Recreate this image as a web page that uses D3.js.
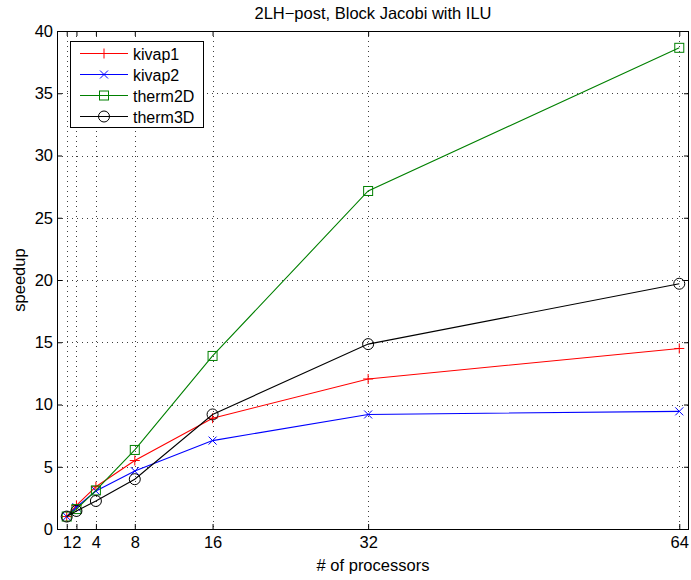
<!DOCTYPE html>
<html>
<head>
<meta charset="utf-8">
<script src="https://cdn.jsdelivr.net/npm/d3@7"></script>
<style>
  body { margin: 0; background: #fff; }
  text { font-family: "Liberation Sans", Arial, Helvetica, sans-serif; fill: #000; }
</style>
</head>
<body>
<div id="chart"></div>
<script>
// processors on x, speedup on y
const procs = [1, 2, 4, 8, 16, 32, 64];
const kivap1 = [1, 1.9, 3.4, 5.5, 8.9, 12.05, 14.5];
const kivap2 = [1, 1.75, 3.05, 4.65, 7.1, 9.2, 9.45];
const therm2D = [1, 1.6, 3.1, 6.35, 13.9, 27.15, 38.65];
const therm3D = [1, 1.45, 2.25, 4.0, 9.2, 14.85, 19.7];
const xTicks = [1, 2, 4, 8, 16, 32, 64];
const yTicks = [0, 5, 10, 15, 20, 25, 30, 35, 40];

const series = [
  { name: "kivap1", values: kivap1, color: "#ff0000", marker: "plus" },
  { name: "kivap2", values: kivap2, color: "#0000ff", marker: "x" },
  { name: "therm2D", values: therm2D, color: "#008000", marker: "square" },
  { name: "therm3D", values: therm3D, color: "#000000", marker: "circle" }
];

const W = 691, H = 580;
const m = { left: 57, right: 2, top: 31, bottom: 51 };
const iw = W - m.left - m.right, ih = H - m.top - m.bottom;
const fs = 16.5;

const svg = d3.select("#chart").append("svg")
  .attr("width", W).attr("height", H);

const x = d3.scaleLinear().domain([0, 65]).range([m.left, m.left + iw]);
const y = d3.scaleLinear().domain([0, 40]).range([m.top + ih, m.top]);

// dotted grid
const grid = svg.append("g").attr("stroke", "#000").attr("stroke-width", 1)
  .attr("stroke-dasharray", "1,4").attr("opacity", 0.75);
grid.selectAll("line.v").data(xTicks).join("line")
  .attr("x1", d => Math.round(x(d)) + 0.5).attr("x2", d => Math.round(x(d)) + 0.5)
  .attr("y1", m.top).attr("y2", m.top + ih);
grid.selectAll("line.h").data(yTicks.filter(d => d > 0 && d < 40)).join("line")
  .attr("y1", d => Math.round(y(d)) + 0.5).attr("y2", d => Math.round(y(d)) + 0.5)
  .attr("x1", m.left).attr("x2", m.left + iw);

// axes (ticks inward, mirrored on top/right)
const tl = 5;
svg.append("g").attr("transform", `translate(0,${m.top + ih})`)
  .call(d3.axisBottom(x).tickValues(xTicks).tickSize(-tl).tickPadding(7).tickFormat(d3.format("d")))
  .call(g => g.select(".domain").remove());
svg.append("g").attr("transform", `translate(0,${m.top})`)
  .call(d3.axisTop(x).tickValues(xTicks).tickSize(-tl).tickFormat(""))
  .call(g => g.select(".domain").remove());
svg.append("g").attr("transform", `translate(${m.left},0)`)
  .call(d3.axisLeft(y).tickValues(yTicks).tickSize(-tl).tickPadding(4))
  .call(g => g.select(".domain").remove());
svg.append("g").attr("transform", `translate(${m.left + iw},0)`)
  .call(d3.axisRight(y).tickValues(yTicks).tickSize(-tl).tickFormat(""))
  .call(g => g.select(".domain").remove());
svg.selectAll(".tick text").attr("font-size", fs).style("font-family", "'Liberation Sans', Arial, sans-serif");
svg.selectAll(".tick line").attr("stroke", "#000");

svg.append("rect").attr("x", m.left + 0.5).attr("y", m.top + 0.5)
  .attr("width", iw - 1).attr("height", ih)
  .attr("fill", "none").attr("stroke", "#000").attr("stroke-width", 1);

function drawMarker(g, type, color, cx, cy) {
  if (type === "plus") {
    g.append("path").attr("d", `M${cx - 5},${cy}H${cx + 5}M${cx},${cy - 5}V${cy + 5}`)
      .attr("stroke", color).attr("fill", "none");
  } else if (type === "x") {
    g.append("path").attr("d", `M${cx - 4},${cy - 4}L${cx + 4},${cy + 4}M${cx - 4},${cy + 4}L${cx + 4},${cy - 4}`)
      .attr("stroke", color).attr("fill", "none");
  } else if (type === "square") {
    g.append("rect").attr("x", cx - 4.5).attr("y", cy - 4.5).attr("width", 9).attr("height", 9)
      .attr("stroke", color).attr("fill", "none");
  } else {
    g.append("circle").attr("cx", cx).attr("cy", cy).attr("r", 5.5)
      .attr("stroke", color).attr("fill", "none");
  }
}

const line = d3.line().x(d => x(d[0])).y(d => y(d[1]));
series.forEach(s => {
  const pts = procs.map((p, i) => [p, s.values[i]]);
  const g = svg.append("g");
  g.append("path").datum(pts).attr("d", line)
    .attr("fill", "none").attr("stroke", s.color).attr("stroke-width", 1.1);
  pts.forEach(p => drawMarker(g, s.marker, s.color, x(p[0]), y(p[1])));
});

// title and axis labels
svg.append("text").attr("x", m.left + iw / 2).attr("y", 19).attr("text-anchor", "middle")
  .attr("font-size", fs).text("2LH\u2212post, Block Jacobi with ILU");
svg.append("text").attr("x", m.left + iw / 2).attr("y", 571).attr("text-anchor", "middle")
  .attr("font-size", fs).text("# of processors");
svg.append("text").attr("transform", `translate(25,${m.top + ih / 2}) rotate(-90)`)
  .attr("text-anchor", "middle").attr("font-size", fs).text("speedup");

// legend
const lg = svg.append("g").attr("transform", "translate(70,41)");
lg.append("rect").attr("x", 0.5).attr("y", 0.5).attr("width", 133).attr("height", 86)
  .attr("fill", "#fff").attr("stroke", "#000");
series.forEach((s, i) => {
  const ly = 12.5 + i * 21;
  lg.append("line").attr("x1", 10).attr("x2", 58).attr("y1", ly).attr("y2", ly)
    .attr("stroke", s.color).attr("stroke-width", 1.1);
  drawMarker(lg, s.marker, s.color, 34, ly);
  lg.append("text").attr("x", 63).attr("y", ly + 6).attr("font-size", 16).text(s.name);
});
</script>
</body>
</html>
